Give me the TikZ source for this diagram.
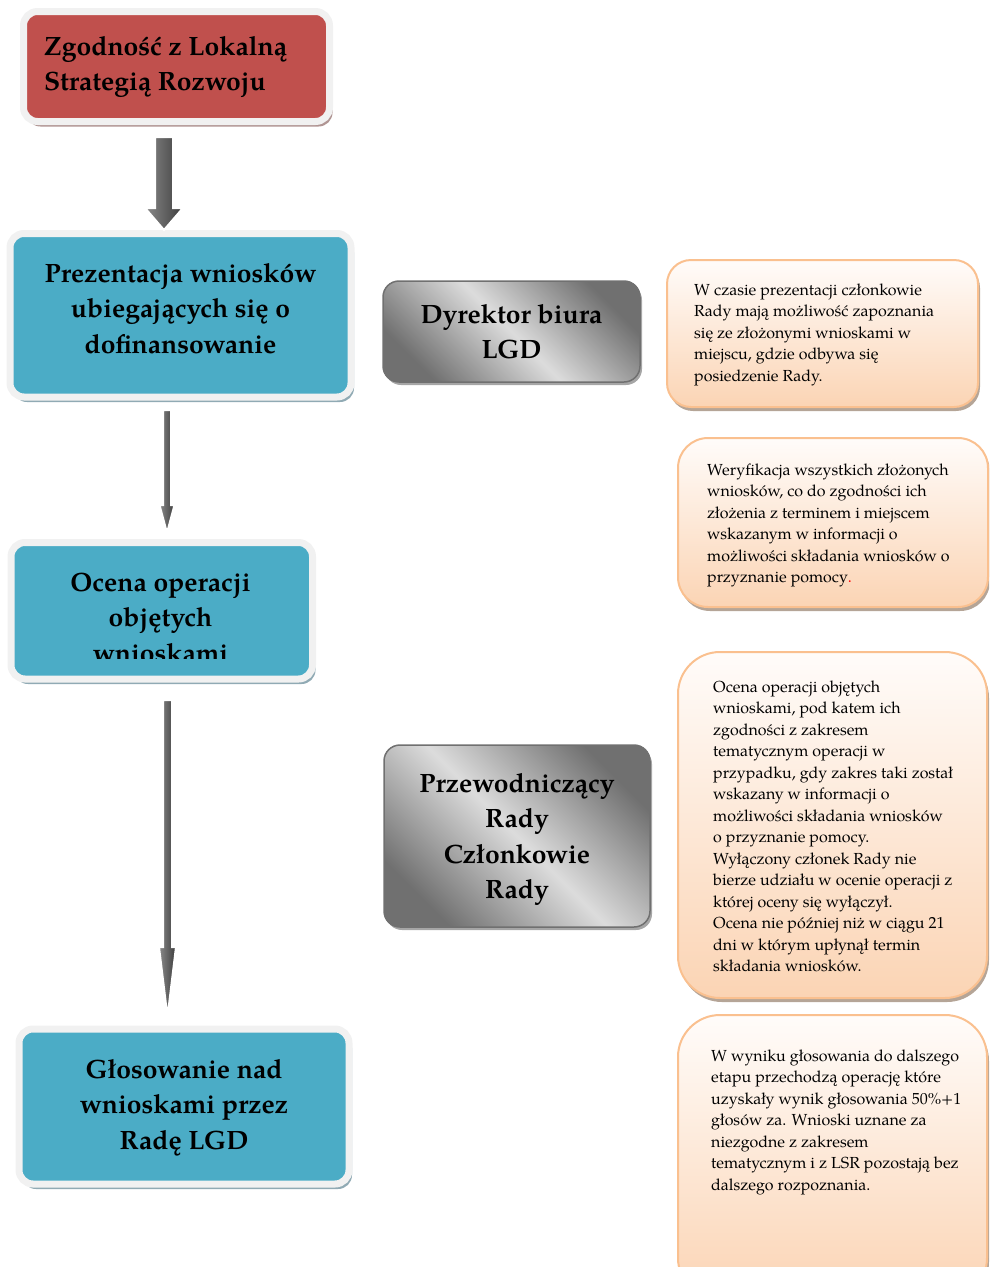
\documentclass[tikz,border=0pt]{standalone}
\usepackage{fontspec}
\setmainfont{TeX Gyre Pagella}
\usetikzlibrary{shadows,calc}
\definecolor{redfill}{HTML}{C0504D}
\definecolor{bluefill}{HTML}{4BACC6}
\definecolor{framecol}{HTML}{F1F1F1}
\definecolor{redshadow}{HTML}{B09593}
\definecolor{blueshadow}{HTML}{90AAB4}
\definecolor{greydark}{HTML}{707070}
\definecolor{greylight}{HTML}{DCDCDC}
\definecolor{greyline}{HTML}{707070}
\definecolor{peach}{HTML}{FBD4B4}
\definecolor{peachtop}{HTML}{FFFCFA}
\definecolor{peachline}{HTML}{FAC08F}
\definecolor{noteshadow}{HTML}{B5A597}
\definecolor{arrowlight}{HTML}{8A8A8A}
\definecolor{arrowdark}{HTML}{3C3C3C}
\tikzset{
  framed/.style={rounded corners=14pt, draw=framecol, line width=7pt, inner sep=0pt},
  redstep/.style={framed, fill=redfill, drop shadow={shadow xshift=3pt, shadow yshift=-5pt, fill=redshadow, opacity=1}},
  bluestep/.style={framed, fill=bluefill, drop shadow={shadow xshift=3pt, shadow yshift=-5pt, fill=blueshadow, opacity=1}},
  rolebox/.style={rounded corners=16pt, draw=greyline, line width=1.5pt, inner sep=0pt,
    top color=greydark, bottom color=greydark, middle color=greylight, shading angle=-45,
    drop shadow={shadow xshift=2pt, shadow yshift=-3pt, fill=black!35, opacity=1}},
  notebox/.style={draw=peachline, line width=2pt, inner sep=0pt, top color=peachtop, bottom color=peach,
    drop shadow={shadow xshift=2pt, shadow yshift=-4pt, fill=noteshadow, opacity=1}},
  bigtext/.style={font=\fontsize{26.5}{35.5}\selectfont\bfseries, inner sep=0pt, align=center, anchor=north},
  smalltext/.style={font=\fontsize{16}{21.5}\selectfont, inner sep=0pt, align=left, anchor=north west},
  arrowbody/.style={left color=arrowlight, right color=arrowdark, draw=white, line width=2pt},
}
\newcommand\blockarrow[5]{%
  \path[arrowbody] let \p1=(#1), \p2=(#2) in
    (\x1-#3,\y1) -- (\x1+#3,\y1) -- (\x1+#3,\y2+#5) -- (\x1+#4,\y2+#5) -- (\x1,\y2)
    -- (\x1-#4,\y2+#5) -- (\x1-#3,\y2+#5) -- cycle;}
\begin{document}
\begin{tikzpicture}[x=1pt,y=-1pt]
\useasboundingbox (0,0) rectangle (989,1267);
\clip (0,0) rectangle (989,1267);
% main flow boxes
\node[redstep, minimum width=306pt, minimum height=110pt] (red) at (176.5,66.5) {};
\node[bluestep, minimum width=341pt, minimum height=163.5pt] (pres) at (180.5,315.25) {};
\node[bluestep, minimum width=301.5pt, minimum height=136.5pt] (ocena) at (161.75,610.75) {};
\node[bluestep, minimum width=330pt, minimum height=155pt] (glos) at (184,1106.5) {};
% role boxes
\node[rolebox, minimum width=257pt, minimum height=101pt] (dyr) at (511.5,331.5) {};
\node[rolebox, minimum width=266pt, minimum height=182pt] (rada) at (517,836) {};
% note boxes
\node[notebox, rounded corners=24pt, minimum width=311pt, minimum height=147pt] (noteA) at (822.5,333.5) {};
\node[notebox, rounded corners=30pt, minimum width=310pt, minimum height=169pt] (noteB) at (833,522.5) {};
\node[notebox, rounded corners=42pt, minimum width=309pt, minimum height=346pt] (noteC) at (832.5,825) {};
\node[notebox, rounded corners=42pt, minimum width=309pt, minimum height=285pt] (noteD) at (832.5,1157.5) {};
% texts
\node[bigtext, align=left, anchor=north west] (redT) at (44,30.15) {\strut Zgodność z Lokalną\\Strategią Rozwoju};
\node[bigtext] (presT) at (180.5,257.15) {\strut Prezentacja wniosków\\ubiegających się o\\dofinansowanie};
\begin{scope}
  \clip (0,540) rectangle (330,658);
  \node[bigtext] (ocenaT) at (160.5,566.15) {\strut Ocena operacji\\objętych\\wnioskami};
\end{scope}
\node[bigtext] (glosT) at (184,1053.15) {\strut Głosowanie nad\\wnioskami przez\\Radę LGD};
\node[bigtext] (dyrT) at (511.5,298.15) {\strut Dyrektor biura\\LGD};
\node[bigtext] (radaT) at (517,767.15) {\strut Przewodniczący\\Rady\\Członkowie\\Rady};
\node[smalltext] (noteAT) at (694,279.95) {\strut W czasie prezentacji członkowie\\Rady mają możliwość zapoznania\\się ze złożonymi wnioskami w\\miejscu, gdzie odbywa się\\posiedzenie Rady.};
\node[smalltext] (noteBT) at (707,459.95) {\strut Weryfikacja wszystkich złożonych\\wniosków, co do zgodności ich\\złożenia z terminem i miejscem\\wskazanym w informacji o\\możliwości składania wniosków o\\przyznanie pomocy\textcolor{red}{.}};
\node[smalltext] (noteCT) at (713,676.95) {\strut Ocena operacji objętych\\wnioskami, pod katem ich\\zgodności z zakresem\\tematycznym operacji w\\przypadku, gdy zakres taki został\\wskazany w informacji o\\możliwości składania wniosków\\o przyznanie pomocy.\\Wyłączony członek Rady nie\\bierze udziału w ocenie operacji z\\której oceny się wyłączył.\\Ocena nie później niż w ciągu 21\\dni w którym upłynął termin\\składania wniosków.};
\node[smalltext] (noteDT) at (711,1045.95) {\strut W wyniku głosowania do dalszego\\etapu przechodzą operację które\\uzyskały wynik głosowania 50\%+1\\głosów za. Wnioski uznane za\\niezgodne z zakresem\\tematycznym i z LSR pozostają bez\\dalszego rozpoznania.};
% arrows
\path ($(red.south)+(-12.5,12)$) coordinate (a1s) ($(pres.north)+(-16.5,0)$) coordinate (a1e);
\path ($(pres.south)+(-13.5,9.5)$) coordinate (a2s) ($(ocena.north)+(5,-6)$) coordinate (a2e);
\path ($(ocena.south)+(5.75,17.5)$) coordinate (a3s) ($(glos.north)+(-16.5,-8.5)$) coordinate (a3e);
\blockarrow{a1s}{a1e}{9pt}{19pt}{22pt}
\blockarrow{a2s}{a2e}{4pt}{7.5pt}{28pt}
\blockarrow{a3s}{a3e}{4.5pt}{8.5pt}{70pt}
\end{tikzpicture}
\end{document}
